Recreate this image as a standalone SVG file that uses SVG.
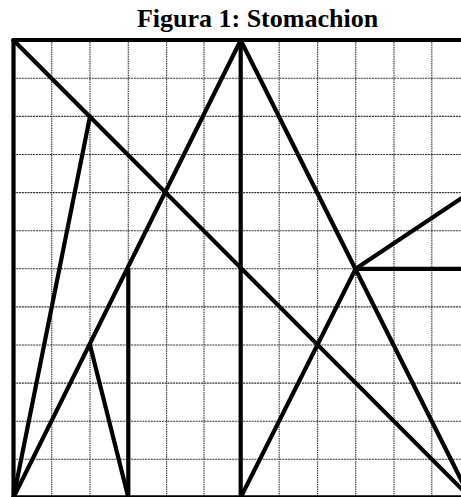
<svg xmlns="http://www.w3.org/2000/svg" width="461" height="497" viewBox="0 0 461 497">
  <style>
    .title { font-family: "Liberation Serif", "Times New Roman", serif; font-weight: bold; font-size: 26px; fill: #000; }
    .gv { stroke: #444; stroke-width: 1.2; stroke-dasharray: 1.5 0.8; fill: none; }
    .gh { stroke: #333; stroke-width: 1.1; stroke-dasharray: 2 0.8; fill: none; }
    .thick { stroke: #000; stroke-width: 4.2; fill: none; stroke-linecap: round; stroke-linejoin: round; }
  </style>
  <rect x="0" y="0" width="461" height="497" fill="#fff"/>
  <text class="title" x="257.5" y="27" text-anchor="middle">Figura 1: Stomachion</text>
  <g id="grid">
    <line class="gv" x1="51.7" y1="40" x2="51.7" y2="497"/>
    <line class="gv" x1="90" y1="40" x2="90" y2="497"/>
    <line class="gv" x1="128.3" y1="40" x2="128.3" y2="497"/>
    <line class="gv" x1="166.6" y1="40" x2="166.6" y2="497"/>
    <line class="gv" x1="204" y1="40" x2="204" y2="497"/>
    <line class="gv" x1="279.2" y1="40" x2="279.2" y2="497"/>
    <line class="gv" x1="317.6" y1="40" x2="317.6" y2="497"/>
    <line class="gv" x1="355.7" y1="40" x2="355.7" y2="497"/>
    <line class="gv" x1="394" y1="40" x2="394" y2="497"/>
    <line class="gv" x1="431.8" y1="40" x2="431.8" y2="497"/>
    <line class="gh" x1="13.5" y1="78.3" x2="470" y2="78.3"/>
    <line class="gh" x1="13.5" y1="116.4" x2="470" y2="116.4"/>
    <line class="gh" x1="13.5" y1="154.5" x2="470" y2="154.5"/>
    <line class="gh" x1="13.5" y1="192.6" x2="470" y2="192.6"/>
    <line class="gh" x1="13.5" y1="230.7" x2="470" y2="230.7"/>
    <line class="gh" x1="13.5" y1="268.8" x2="470" y2="268.8"/>
    <line class="gh" x1="13.5" y1="306.9" x2="470" y2="306.9"/>
    <line class="gh" x1="13.5" y1="345" x2="470" y2="345"/>
    <line class="gh" x1="13.5" y1="383.1" x2="470" y2="383.1"/>
    <line class="gh" x1="13.5" y1="421.2" x2="470" y2="421.2"/>
    <line class="gh" x1="13.5" y1="459.3" x2="470" y2="459.3"/>
  </g>
  <g id="pieces">
    <line class="thick" x1="13.5" y1="40" x2="470" y2="40"/>
    <line class="thick" x1="13.5" y1="40" x2="13.5" y2="497.4"/>
    <line class="thick" x1="13.5" y1="497.4" x2="470" y2="497.4"/>
    <line class="thick" x1="470" y1="40" x2="470" y2="497.4"/>
    <line class="thick" x1="13.5" y1="40.2" x2="470" y2="497.4"/>
    <line class="thick" x1="240.7" y1="40.2" x2="13.5" y2="497.4"/>
    <line class="thick" x1="240.7" y1="40.2" x2="470" y2="497.4"/>
    <line class="thick" x1="240.7" y1="40.2" x2="240.7" y2="497.4"/>
    <line class="thick" x1="13.5" y1="497.4" x2="90" y2="116.4"/>
    <line class="thick" x1="90" y1="345" x2="128.3" y2="497.4"/>
    <line class="thick" x1="128.3" y1="268.8" x2="128.3" y2="497.4"/>
    <line class="thick" x1="240.7" y1="497.4" x2="355.7" y2="268.8"/>
    <line class="thick" x1="355.7" y1="268.8" x2="470" y2="268.8"/>
    <line class="thick" x1="355.7" y1="268.8" x2="470" y2="192.6"/>
  </g>
</svg>
